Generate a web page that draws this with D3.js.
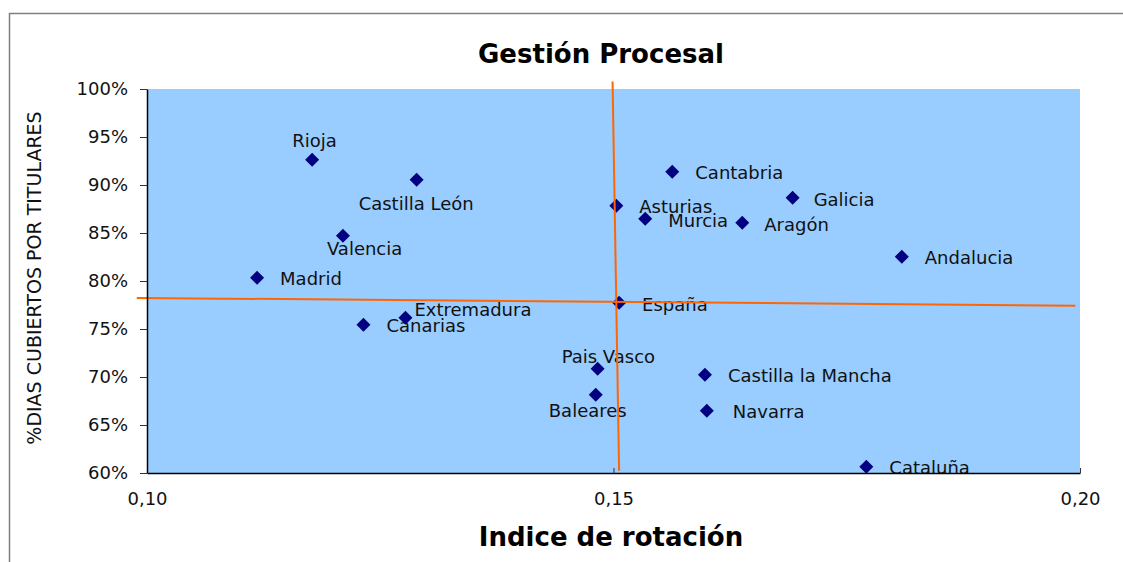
<!DOCTYPE html>
<html>
<head>
<meta charset="utf-8">
<script src="https://cdn.jsdelivr.net/npm/d3@7"></script>
<style>
	body { margin: 0; background: #fff; }
	svg { display: block; font-family: "DejaVu Sans", Verdana, sans-serif; }
</style>
</head>
<body>
<div id="chart"></div>
<script>
"use strict";

// comunidades y su punto (indice de rotacion, % dias cubiertos por titulares)
var regions = ["Rioja", "Castilla León", "Valencia", "Madrid", "Canarias", "Extremadura",
	"Asturias", "Murcia", "Cantabria", "Aragón", "Galicia", "Andalucia", "España",
	"Pais Vasco", "Baleares", "Castilla la Mancha", "Navarra", "Cataluña"];
var rotacion = [0.1177, 0.1289, 0.1210, 0.1118, 0.1232, 0.1277,
	0.1503, 0.1534, 0.1563, 0.1638, 0.1692, 0.1809, 0.1506,
	0.1483, 0.1481, 0.1598, 0.1600, 0.1771];
var diasTitulares = [0.9264, 0.9055, 0.8472, 0.8034, 0.7545, 0.7618,
	0.8784, 0.8649, 0.9139, 0.8607, 0.8868, 0.8253, 0.7774,
	0.7086, 0.6816, 0.7024, 0.6649, 0.6066];

var xTicks = [0.10, 0.15, 0.20];
var yTicks = [0.60, 0.65, 0.70, 0.75, 0.80, 0.85, 0.90, 0.95, 1.00];

// lineas naranjas dibujadas a mano (cruce en España)
var hLineX = [0.0989, 0.1995];
var hLineY = [0.7824, 0.7743];
var vLineX = [0.1499, 0.1506];
var vLineY = [1.0079, 0.6024];

var title = "Gestión Procesal";
var xTitle = "Indice de rotación";
var yTitle = "%DIAS CUBIERTOS POR TITULARES";


// where each label sits relative to its marker (left edge, baseline)
var labelOffset = {
	"Rioja": [-20, -13], "Castilla León": [-58, 30], "Valencia": [-16, 19],
	"Madrid": [23, 7], "Canarias": [23, 7], "Extremadura": [9, -2],
	"Asturias": [23, 7], "Murcia": [23, 8], "Cantabria": [23, 7],
	"Aragón": [22, 8], "Galicia": [21, 8], "Andalucia": [23, 7],
	"España": [23, 8], "Pais Vasco": [-36, -6], "Baleares": [-47, 22],
	"Castilla la Mancha": [23, 7], "Navarra": [26, 7], "Cataluña": [23, 7]
};

function loadGraph() {

	var svg = d3.select("#chart").append("svg")
		.attr("width", 1123).attr("height", 562);

	// outer chart frame, cut off right and bottom like the original
	svg.append("rect")
		.attr("x", 9.5).attr("y", 13.5)
		.attr("width", 1200).attr("height", 600)
		.attr("fill", "none")
		.attr("stroke", "#808080")
		.attr("stroke-width", 1.5);

	var plot = {left: 147, right: 1080, top: 89, bottom: 473};

	var x = d3.scaleLinear().domain([0.10, 0.20]).range([plot.left, plot.right]),
		y = d3.scaleLinear().domain([0.60, 1.00]).range([plot.bottom, plot.top]);

	svg.append("rect")
		.attr("x", plot.left).attr("y", plot.top)
		.attr("width", plot.right - plot.left)
		.attr("height", plot.bottom - plot.top)
		.attr("fill", "#99ccff");

	var data = regions.map(function(name, i) {
		return {name: name, x: rotacion[i], y: diasTitulares[i]};
	});

	var pts = svg.append("g").selectAll(".pt")
		.data(data)
		.enter().append("g")
		.attr("class", "pt")
		.attr("transform", function(d) { return "translate(" + x(d.x) + "," + y(d.y) + ")"; });

	pts.append("path")
		.attr("d", "M0,-7L7,0L0,7L-7,0Z")
		.attr("fill", "#000080");

	pts.append("text")
		.attr("x", function(d) { return labelOffset[d.name][0]; })
		.attr("y", function(d) { return labelOffset[d.name][1]; })
		.style("font-size", "18px")
		.attr("fill", "#111")
		.text(function(d) { return d.name; });

	// the two orange reference lines
	var line = d3.line()
		.x(function(d) { return x(d[0]); })
		.y(function(d) { return y(d[1]); });

	svg.append("path")
		.attr("d", line(d3.zip(hLineX, hLineY)))
		.attr("stroke", "#ff6600").attr("stroke-width", 2).attr("fill", "none");
	svg.append("path")
		.attr("d", line(d3.zip(vLineX, vLineY)))
		.attr("stroke", "#ff6600").attr("stroke-width", 2).attr("fill", "none");

	var fmtX = function(v) { return d3.format(".2f")(v).replace(".", ","); };

	var gx = svg.append("g")
		.attr("transform", "translate(0," + plot.bottom + ")")
		.call(d3.axisBottom(x).tickValues(xTicks).tickFormat(fmtX)
			.tickSizeInner(-5).tickSizeOuter(0).tickPadding(19));

	var gy = svg.append("g")
		.attr("transform", "translate(" + plot.left + ",0)")
		.call(d3.axisLeft(y).tickValues(yTicks).tickFormat(d3.format(".0%"))
			.tickSizeInner(7).tickSizeOuter(0).tickPadding(12));

	[gx, gy].forEach(function(g) {
		g.selectAll("text")
			.style("font-size", "18px")
			.style("font-family", "DejaVu Sans, Verdana, sans-serif")
			.attr("fill", "#111");
		g.select(".domain").attr("stroke", "#000").attr("stroke-width", 1.5);
		g.selectAll(".tick line").attr("stroke", "#333");
	});

	svg.append("text")
		.attr("x", 601).attr("y", 63)
		.attr("text-anchor", "middle")
		.style("font-size", "26px").style("font-weight", "bold")
		.text(title);

	svg.append("text")
		.attr("x", 611).attr("y", 546)
		.attr("text-anchor", "middle")
		.style("font-size", "26px").style("font-weight", "bold")
		.text(xTitle);

	svg.append("text")
		.attr("transform", "translate(41,278) rotate(-90)")
		.attr("text-anchor", "middle")
		.style("font-size", "19px")
		.attr("fill", "#111")
		.text(yTitle);
}

loadGraph();
</script>
</body>
</html>
